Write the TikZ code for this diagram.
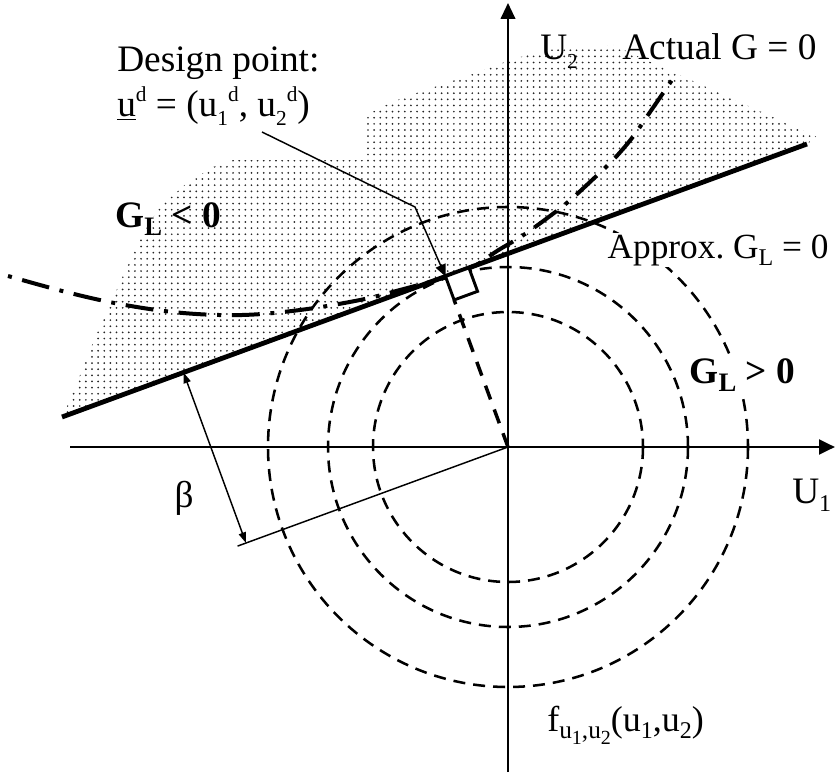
\documentclass[tikz,border=0pt]{standalone}
\usepackage{fontspec}
\setmainfont{Liberation Serif}
\usetikzlibrary{arrows.meta,patterns,calc}
\pgfdeclarepatternformonly{sparsedots}{\pgfqpoint{-1pt}{-1pt}}{\pgfqpoint{1pt}{1pt}}{\pgfqpoint{4.6pt}{4.6pt}}{\pgfpathcircle{\pgfqpoint{0pt}{0pt}}{0.72pt}\pgfusepath{fill}}
\newcommand{\sbx}[2]{\raisebox{-0.22em}{\fontsize{#1}{#1}\selectfont #2}}
\newcommand{\spx}[2]{\raisebox{0.42em}{\fontsize{#1}{#1}\selectfont #2}}
\begin{document}
\begin{tikzpicture}[x=0.75pt,y=-0.75pt,
  lbl/.style={font=\fontsize{28}{34}\selectfont, inner sep=0pt, anchor=base west},
  circ/.style={line width=1.9pt, dash pattern=on 9pt off 6pt},
  axisH/.style={line width=2.2pt, -{Triangle[length=12pt,width=11pt]}},
  axisV/.style={line width=1.5pt, -{Triangle[length=12pt,width=11pt]}},
  boldline/.style={line width=3.6pt},
  actual/.style={line width=3pt, dash pattern=on 3pt off 8pt on 21pt off 8pt},
  perp/.style={line width=2.6pt, dash pattern=on 11pt off 8pt},
  thinline/.style={line width=1.1pt},
  whitebg/.style={fill=white, inner sep=1pt}]
\useasboundingbox (0,0) rectangle (836,774);

% key points
\coordinate (O) at (508,447);
\coordinate (A) at (62,417);
\coordinate (B) at (807,144);
\coordinate (F) at ($(A)!(O)!(B)$);

% shaded failure region
\fill[pattern=sparsedots, pattern color=black!85]
  (A) -- (70,400) -- (97,333) -- (127,267) -- (143,233) -- (160,207) -- (187,183)
  -- (213,167) -- (233,160) -- (363,160) -- (363,117)
  -- plot[smooth] coordinates {(363,117) (400,99) (467,76) (517,58) (560,48) (613,45)}
  -- (817,137) -- (B) -- cycle;

% density contours
\draw[circ] (O) circle[radius=135];
\draw[circ] (O) circle[radius=180];
\draw[circ] (O) circle[radius=240];

% axes
\coordinate (XL) at (70,447);
\coordinate (XR) at (835,447);
\coordinate (YB) at (508,772);
\coordinate (YT) at (508,3);
\draw[axisH] (XL) -- (XR);
\draw[axisV] (YB) -- (YT);

% approximate limit state
\draw[boldline] (A) -- (B);

% actual limit state
\draw[actual] plot[smooth, tension=0.6] coordinates {(8,276) (70,293) (125,305) (183,313) (242,315) (300,310) (360,300) (400,290) (446,277) (476,265) (497,251) (522,236) (546,219) (568,202) (590,182) (613,160) (632,138) (648,115) (672,80)};

% perpendicular and right-angle mark
\coordinate (S1) at ($(F)!18.75pt!(B)$);
\coordinate (S3) at ($(F)!18.75pt!(O)$);
\coordinate (S2) at ($(S1)+(S3)-(F)$);
\draw[perp] (O) -- (S3);
\draw[line width=2.2pt, fill=white] (F) -- (S1) -- (S2) -- (S3) -- cycle;

% beta
\coordinate (E) at ($(O)+(A)-(B)$);
\coordinate (Eb) at ($(O)!0.363!(E)$);
\coordinate (P) at ($(O)!0.3517!(E)$);
\coordinate (Q) at ($(A)!(P)!(B)$);
\draw[thinline] (O) -- (Eb);
\draw[thinline, {Triangle[length=8pt,width=5.5pt]}-{Triangle[length=8pt,width=5.5pt]}] (Q) -- (P);

% design point pointer
\coordinate (Ps) at (262,132);
\coordinate (K) at (415,207);
\draw[thinline, -{Triangle[length=9pt,width=8pt]}] (Ps) -- (K) -- (F);

% labels
\node[lbl] (dp) at (117,72) {Design point:};
\node[lbl] (ud) at (117,117) {\underline{u}\spx{16}{d} = (u\sbx{16}{1}\spx{16}{d}, u\sbx{16}{2}\spx{16}{d})};
\node[lbl] (glneg) at (115,227) {\textbf{G\sbx{20}{L} < 0}};
\node[lbl] (u2) at (540,60) {U\sbx{16}{2}};
\node[lbl] (actg) at (622,60) {Actual G = 0};
\node[lbl, whitebg, font=\fontsize{26.5}{32}\selectfont] (appg) at (606,258) {Approx.\ G\sbx{18}{L} = 0};
\node[lbl, whitebg] (glpos) at (688,383) {\textbf{G\sbx{20}{L} > 0}};
\node[lbl] (u1) at (792,503) {U\sbx{18}{1}};
\node[font=\fontsize{28}{34}\selectfont, inner sep=0pt] (beta) at (184,498) {β};
\node[lbl, font=\fontsize{27}{32}\selectfont] (fu) at (547,731) {f\sbx{19}{u\sbx{15}{1},u\sbx{15}{2}}(u\sbx{18}{1},u\sbx{18}{2})};
\end{tikzpicture}
\end{document}
